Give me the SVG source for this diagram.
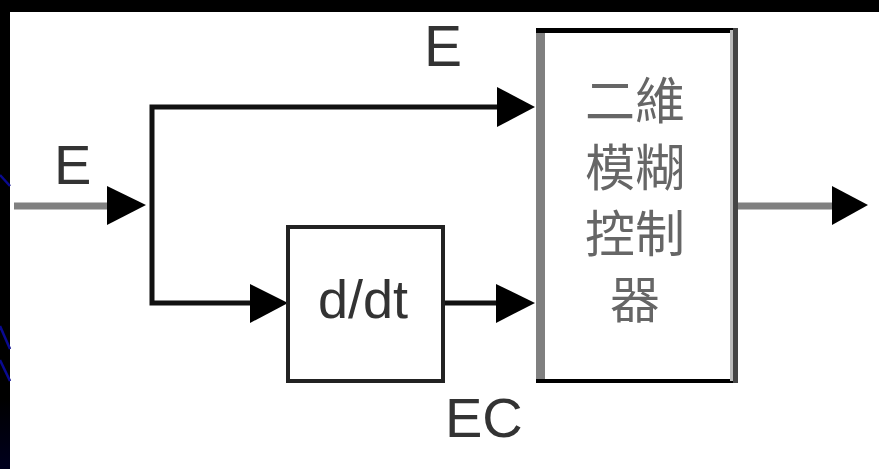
<svg xmlns="http://www.w3.org/2000/svg" width="879" height="469" viewBox="0 0 879 469">
<defs>
<style>
.lbl{font-family:"Liberation Sans",Arial,sans-serif;fill:#333;}
.cjk{font-family:"Noto Sans CJK TC","Noto Sans CJK SC",sans-serif;fill:#666;font-size:50px;text-anchor:middle;}
.wire{stroke:#111;stroke-width:5;fill:none;}
.gwire{stroke:#808080;stroke-width:7;fill:none;}
.head{fill:#000;}
</style>
<linearGradient id="strip" x1="0" y1="0" x2="0" y2="1">
<stop offset="0" stop-color="#000"/>
<stop offset="0.85" stop-color="#000"/>
<stop offset="1" stop-color="#00001e"/>
</linearGradient>
</defs>
<rect x="0" y="0" width="879" height="469" fill="#fff"/>
<rect x="0" y="0" width="879" height="12" fill="#000"/>
<rect x="0" y="0" width="10" height="469" fill="url(#strip)"/>
<g stroke="#0a0a90" stroke-width="2.5">
<line x1="0" y1="175" x2="10" y2="186"/>
<line x1="0" y1="326" x2="10" y2="349"/>
<line x1="0" y1="360" x2="10" y2="381"/>
</g>
<g id="connectors">
<line class="gwire" x1="14" y1="206" x2="108" y2="206"/>
<polygon class="head" points="107,186 107,225 146,205"/>
<polyline class="wire" points="498,107 152,107 152,303 252,303"/>
<polygon class="head" points="497,87 497,127 535,107"/>
<polygon class="head" points="250,284 250,323 288,303"/>
<line class="wire" x1="444" y1="303" x2="498" y2="303"/>
<polygon class="head" points="496,284 496,323 535,303"/>
<line class="gwire" x1="736" y1="206" x2="834" y2="206"/>
<polygon class="head" points="832,186 832,225 868,205"/>
</g>
<g id="label-E-in"><text class="lbl" x="54" y="184" font-size="56">E</text></g>
<g id="label-E-top"><text class="lbl" x="424" y="66" font-size="57">E</text></g>
<g id="label-EC"><text class="lbl" x="445" y="437" font-size="56">EC</text></g>
<g id="ddt">
<rect x="288" y="227" width="155" height="154" fill="#fff" stroke="#222" stroke-width="4"/>
<text class="lbl" x="363" y="318" font-size="54" text-anchor="middle" fill="#444">d/dt</text>
</g>
<g id="controller">
<rect x="540" y="30" width="195" height="351" fill="#fff"/>
<line x1="540.5" y1="28" x2="540.5" y2="383" stroke="#808080" stroke-width="9"/>
<line x1="536" y1="30.5" x2="738" y2="30.5" stroke="#000" stroke-width="5"/>
<line x1="536" y1="381" x2="738" y2="381" stroke="#000" stroke-width="4"/>
<line x1="731.5" y1="30" x2="731.5" y2="381" stroke="#bbb" stroke-width="3"/>
<line x1="735.5" y1="28" x2="735.5" y2="383" stroke="#444" stroke-width="5"/>
<text class="cjk" x="635" y="119">二維</text>
<text class="cjk" x="635" y="186">模糊</text>
<text class="cjk" x="635" y="252">控制</text>
<text class="cjk" x="635" y="318">器</text>
</g>
</svg>
